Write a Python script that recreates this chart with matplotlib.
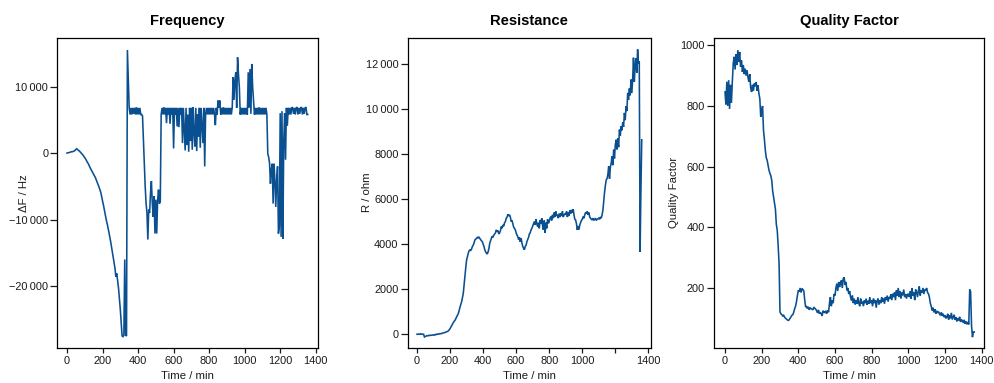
import numpy as np
import matplotlib
matplotlib.use("Agg")
import matplotlib.pyplot as plt
from matplotlib.ticker import FuncFormatter

plt.rcParams['font.family'] = ['Liberation Sans', 'DejaVu Sans']

# ---------------- data ----------------
freq_step = 5
freq_hz = [
    0, 30, 50, 100, 150, 200, 200, 250, 300, 400, 550, 650, 500, 400, 300, 150, 0, -150, -300, -500,
    -700, -900, -1150, -1400, -1600, -1900, -2200, -2450, -2700, -2950, -3200, -3450, -3700, -4050, -4400, -4750, -5100, -5500, -5900, -6500,
    -7200, -7800, -8500, -9200, -9900, -10500, -11100, -11800, -12500, -13200, -14000, -14800, -15600, -16400, -17300, -18600, -18100, -19200, -20300, -21900,
    -23500, -25500, -27500, -27600, -27400, -16000, -27400, -27500, 15500, 11000, 6800, 5800, 6800, 5800, 6800, 5900, 6800, 5800, 6900, 5800,
    6800, 5800, 6800, 5800, 5800, 5600, 2000, -2000, -5000, -7500, -9000, -13000, -8500, -9000, -6000, -4200, -7500, -9600, -6500, -12100,
    -7000, -12100, -7100, -5500, -7600, -7300, 5800, 6800, 5800, 6900, 5800, 6800, 4500, 6800, 5800, 6800, 4400, 6800, 5800, 6800,
    700, 6800, 5800, 6800, 4000, 6800, 3900, 6800, 5800, 6800, 1500, 6800, 3500, 400, 6800, 1200, 5800, 200, 6800, 1800,
    6800, 500, 6900, 3000, 1000, 6800, 300, 5800, 2500, 6800, 800, 6800, 4000, 1500, 6800, -2000, 5800, 6800, 5800, 6800,
    5800, 6800, 5800, 6800, 5800, 6800, 5900, 4200, 6800, 5800, 7900, 6800, 7900, 5800, 6800, 5800, 6900, 5800, 6800, 5800,
    6800, 5800, 6800, 5800, 6800, 5800, 6900, 11400, 8000, 11000, 12150, 6800, 14400, 11900, 9900, 5800, 6800, 5800, 6800, 5800,
    6800, 5800, 6800, 5800, 12150, 6800, 12650, 5900, 13400, 9900, 7900, 5800, 6800, 5800, 6800, 5800, 6900, 5800, 6800, 5800,
    6800, 5800, 6800, 5800, 6800, 5800, -100, -600, -1500, -4600, -2500, -1600, -7600, -1600, -4000, -8100, -4100, -2000, -12100, -11000,
    6000, -12600, 6300, -12900, 1900, 6000, -1000, 6800, 4100, 6800, 5800, 6800, 5800, 6900, 6800, 5900, 6800, 5800, 6800, 6900,
    5800, 6800, 5900, 6800, 6900, 5800, 6800, 5900, 6800, 6900, 5800, 5800,
]

res_step = 5
res_ohm = [
    0, 0, 10, 0, 20, 0, 10, 0, 0, -120, -100, -80, -60, -70, -50, -60, -40, -50, -40, -30,
    -40, -20, -30, 0, -10, 10, 0, 20, 30, 20, 40, 50, 60, 70, 80, 100, 110, 130, 150, 200,
    250, 320, 400, 450, 520, 580, 620, 700, 780, 850, 920, 1050, 1200, 1320, 1440, 1620, 1810, 2200, 2550, 2950,
    3290, 3450, 3590, 3700, 3740, 3720, 3780, 3890, 3950, 4050, 4180, 4220, 4250, 4300, 4280, 4320, 4250, 4200, 4150, 4110,
    4000, 3900, 3750, 3660, 3600, 3560, 3650, 3800, 4030, 4150, 4250, 4350, 4300, 4400, 4450, 4500, 4630, 4550, 4600, 4450,
    4500, 4600, 4780, 4700, 4850, 4800, 4950, 5000, 5150, 5200, 5320, 5250, 5300, 5200, 5000, 5050, 4900, 4750, 4700, 4630,
    4500, 4400, 4330, 4200, 4300, 4100, 4260, 4050, 3900, 3810, 3750, 3900, 3950, 4110, 4200, 4300, 4450, 4500, 4630, 4700,
    4800, 4900, 5000, 4850, 5100, 4900, 4780, 4950, 4700, 5070, 4900, 5150, 4800, 4630, 5050, 4500, 4950, 4700, 5100, 4920,
    5000, 5150, 5220, 5050, 5300, 5150, 5400, 5200, 5450, 5250, 5300, 5150, 5350, 5200, 5370, 5250, 5450, 5200, 5300, 5350,
    5300, 5450, 5200, 5400, 5250, 5500, 5350, 5520, 5400, 5550, 5300, 5100, 5070, 4900, 4630, 4800, 4650, 4850, 4950, 5050,
    5100, 5220, 5150, 5300, 5400, 5350, 5450, 5300, 5400, 5200, 5150, 5100, 5070, 5150, 5050, 5100, 5150, 5050, 5100, 5120,
    5150, 5100, 5200, 5150, 5300, 5500, 5900, 6300, 6600, 6850, 6900, 7100, 7450, 6900, 7400, 7590, 7890, 7500, 8190, 7800,
    8400, 8630, 8200, 8700, 8300, 9080, 8800, 9230, 9050, 9400, 9200, 9820, 9500, 10120, 9900, 10710, 10400, 10900, 10600, 11300,
    10700, 11300, 12270, 11200, 11900, 12250, 11600, 12640, 12000, 12100, 3660, 6400, 8630,
]

q_step = 5
q_factor = [
    846, 805, 880, 800, 885, 790, 870, 810, 880, 940, 962, 920, 970, 935, 984, 945, 978, 929, 950, 912,
    935, 905, 923, 900, 918, 896, 880, 905, 860, 846, 870, 850, 874, 865, 879, 850, 868, 841, 824, 764,
    786, 800, 720, 690, 654, 630, 621, 605, 588, 578, 570, 555, 520, 500, 480, 460, 410, 390, 340, 280,
    121, 115, 112, 108, 110, 104, 100, 98, 95, 93, 95, 100, 105, 110, 112, 120, 132, 140, 155, 175,
    192, 188, 200, 185, 198, 195, 190, 160, 137, 140, 132, 138, 128, 135, 132, 130, 128, 137, 133, 130,
    125, 118, 128, 115, 120, 115, 108, 125, 121, 118, 125, 115, 126, 120, 150, 170, 140, 159, 150, 180,
    175, 200, 214, 190, 220, 203, 215, 225, 200, 231, 235, 210, 220, 192, 200, 180, 190, 170, 159, 175,
    150, 165, 145, 160, 148, 170, 150, 140, 165, 148, 155, 140, 159, 150, 165, 145, 158, 148, 170, 150,
    159, 140, 165, 150, 160, 135, 158, 165, 145, 160, 150, 170, 155, 165, 148, 170, 160, 175, 155, 170,
    165, 180, 160, 181, 170, 185, 160, 192, 175, 200, 170, 190, 165, 185, 176, 195, 170, 180, 165, 178,
    181, 170, 190, 165, 200, 175, 185, 160, 195, 187, 170, 190, 205, 175, 192, 185, 200, 180, 195, 192,
    200, 185, 181, 170, 150, 140, 126, 135, 120, 130, 115, 125, 118, 122, 115, 110, 120, 108, 115, 104,
    110, 100, 104, 115, 95, 110, 100, 118, 96, 104, 112, 95, 104, 90, 100, 93, 105, 88, 95, 93,
    85, 95, 82, 90, 80, 88, 80, 195, 188, 75, 38, 55, 55,
]

freq_time = np.arange(len(freq_hz)) * freq_step
res_time = np.arange(len(res_ohm)) * res_step
q_time = np.arange(len(q_factor)) * q_step

titles = ["Frequency", "Resistance", "Quality Factor"]
ylabels = ["ΔF / Hz", "R / ohm", "Quality Factor"]
xlabel = "Time / min"
xticks = [0, 200, 400, 600, 800, 1000, 1200, 1400]
xticklabels_std = ["0", "200", "400", "600", "800", "1000", "1200", "1400"]
xticklabels_res = ["0", "200", "400", "600", "800", "1000", "", "1400"]
freq_yticks = [-20000, -10000, 0, 10000]
res_yticks = [0, 2000, 4000, 6000, 8000, 10000, 12000]
q_yticks = [200, 400, 600, 800, 1000]

# ---------------- style ----------------
W, H = 994, 383
LINE = '#0a5091'
TXT = '#1a1a1a'


def fmt(v, pos=None):
    v = int(round(v))
    s = str(abs(v))
    if abs(v) >= 10000:
        s = s[:-3] + '\u2009' + s[-3:]
    return ('\u2212' if v < 0 else '') + s


fig = plt.figure(figsize=(W / 100, H / 100), dpi=100)


def px_axes(l, r, t, b):
    return fig.add_axes([l / W, 1 - b / H, (r - l) / W, (b - t) / H])


panels = [
    dict(box=(57.3, 317.7, 37.7, 347.6), x=freq_time, y=freq_hz, xlim=(-54.6, 1411),
         ylim=(-29250, 17350), yticks=freq_yticks, xtl=xticklabels_std, ylx=-0.107),
    dict(box=(407.7, 651.0, 37.7, 347.6), x=res_time, y=res_ohm, xlim=(-56.3, 1416),
         ylim=(-592, 13157), yticks=res_yticks, xtl=xticklabels_res, ylx=-0.145),
    dict(box=(714.0, 984.3, 37.7, 347.6), x=q_time, y=q_factor, xlim=(-60, 1414.6),
         ylim=(3.5, 1025), yticks=q_yticks, xtl=xticklabels_std, ylx=-0.128),
]

for i, p in enumerate(panels):
    ax = px_axes(*p['box'])
    ax.plot(p['x'], p['y'], color=LINE, lw=1.15, solid_joinstyle='miter')
    ax.set_xlim(*p['xlim'])
    ax.set_ylim(*p['ylim'])
    ax.set_xticks(xticks)
    ax.set_xticklabels(p['xtl'])
    ax.set_yticks(p['yticks'])
    ax.yaxis.set_major_formatter(FuncFormatter(fmt))
    ax.tick_params(direction='out', width=0.9, labelsize=7.9, colors=TXT)
    ax.tick_params(axis='x', length=3.5, pad=2.5)
    ax.tick_params(axis='y', length=5, pad=1.5)
    for s in ax.spines.values():
        s.set_linewidth(0.9)
        s.set_color('black')
    ax.set_title(titles[i], fontsize=10.6, fontweight='bold', pad=9.0, color='black')
    ax.set_xlabel(xlabel, fontsize=8.2, color=TXT)
    ax.xaxis.set_label_coords(0.5, -0.077)
    ax.set_ylabel(ylabels[i], fontsize=8.2, color=TXT)
    ax.yaxis.set_label_coords(p['ylx'], 0.5)

fig.savefig("out.png", dpi=100)
